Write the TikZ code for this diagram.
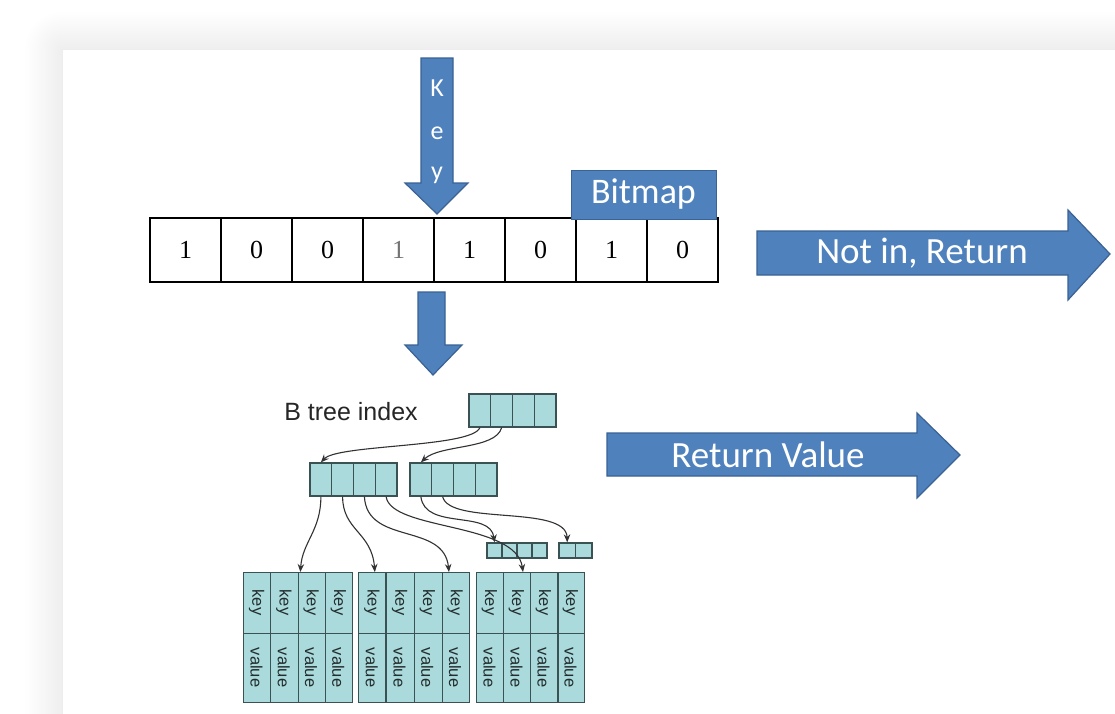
\documentclass[tikz,border=0pt]{standalone}
\usepackage{fontspec}
\setmainfont{Carlito}
\newfontfamily\arialfont{Liberation Sans}
\newfontfamily\timesfont{Liberation Serif}
\usetikzlibrary{arrows.meta,calc}

\definecolor{officeblue}{RGB}{79,129,189}
\definecolor{officeedge}{RGB}{58,98,148}
\definecolor{cellfill}{RGB}{170,218,220}
\definecolor{celledge}{RGB}{58,82,84}
\definecolor{linkgray}{RGB}{50,50,50}
\definecolor{leaftext}{RGB}{35,45,45}

\tikzset{
  bluearrow/.style={fill=officeblue, draw=officeedge, line width=1.2pt, line join=miter},
  arrowtext/.style={text=white, font=\fontsize{37}{42}\selectfont, inner sep=0pt},
  keyletter/.style={text=white, font=\fontsize{26}{30}\selectfont, inner sep=0pt},
  bitcell/.style={draw=black, line width=2.8pt, minimum width=71pt, minimum height=64pt,
    inner sep=0pt, font=\timesfont\fontsize{26}{30}\selectfont},
  tcell/.style={draw=celledge, fill=cellfill, line width=1.3pt, inner sep=0pt},
  leaftxt/.style={rotate=-90, inner sep=0pt, text=leaftext, font=\arialfont\fontsize{16.5}{18}\selectfont},
  link/.style={draw=linkgray, line width=1.1pt, -{Stealth[length=8pt,width=6.5pt]}},
}

\begin{document}
\begin{tikzpicture}[x=1pt,y=-1pt]
\useasboundingbox (0,0) rectangle (1115,713);

% page background and the card with its soft shadow
\fill[white] (0,0) rectangle (1115,713);
\foreach \i in {1,...,16}{
  \pgfmathsetmacro\d{2.3*\i}
  \fill[black, opacity=0.0042, rounded corners=\d pt] (62-\d,49-\d) rectangle (1200,800);
}
\fill[white] (62,49) rectangle (1200,800);
\draw[black!7, line width=0.6pt] (62,800) -- (62,49) -- (1200,49);

% "Key" arrow pointing into the bitmap
\path[bluearrow] (421,58) -- (453,58) -- (453,183) -- (468,183) -- (437,214)
  -- (405,183) -- (421,183) -- cycle;
\node[keyletter] (kK) at (437,88) {K};
\node[keyletter] (ke) at (437,133) {e};
\node[keyletter] (ky) at (437,175) {y};

% bitmap
\foreach \v [count=\i] in {1,0,0,1,1,0,1,0}{
  \node[bitcell] (b\i) at (150+71*\i-35.5,250) {\v};
}
\node[fill=white, inner sep=1pt, text=black!55, font=\timesfont\fontsize{26}{30}\selectfont] at (b4) {1};
\node[fill=officeblue, draw=officeedge, line width=1pt, minimum width=145pt,
  minimum height=49pt, inner sep=0pt, text=white, font=\fontsize{36}{40}\selectfont]
  (bitmap) at (643.5,194.5) {Bitmap};

% "Not in" result arrow
\path[bluearrow] (757,231) -- (1068,231) -- (1068,210) -- (1110,254) -- (1068,300)
  -- (1068,275) -- (757,275) -- cycle;
\node[arrowtext] (notin) at (922,253) {Not in, Return};

% arrow from bitmap down to the index
\path[bluearrow] (418,292) -- (445,292) -- (445,345) -- (462,345) -- (433,375)
  -- (405,345) -- (418,345) -- cycle;

% "Return Value" result arrow
\path[bluearrow] (607,433) -- (917,433) -- (917,413) -- (960,455) -- (917,498)
  -- (917,476) -- (607,476) -- cycle;
\node[arrowtext] (retval) at (768,455) {Return Value};

% B tree index
\node[font=\arialfont\fontsize{25}{28}\selectfont, text=black!85, inner sep=0pt]
  (btlabel) at (351,412) {B tree index};

\foreach \i in {1,...,4}{
  \node[tcell, minimum width=21.75pt, minimum height=33pt] (r\i) at (469+21.75*\i-10.875,410.5) {};
  \node[tcell, minimum width=21.75pt, minimum height=33pt] (L\i) at (310+21.75*\i-10.875,479.5) {};
  \node[tcell, minimum width=21.75pt, minimum height=33pt] (R\i) at (410+21.75*\i-10.875,479.5) {};
  \node[tcell, minimum width=15pt, minimum height=15pt] (S\i) at (487+15*\i-7.5,550.5) {};
}
\foreach \i in {1,2}{
  \node[tcell, minimum width=16.5pt, minimum height=15pt] (T\i) at (559+16.5*\i-8.25,550.5) {};
}

% leaf pages with key / value slots
\foreach \b/\xl/\w in {A/243/109, B/358/111, C/476/108}{
  \node[tcell, minimum width=\w pt, minimum height=130pt, anchor=north west] (leaf\b) at (\xl,572) {};
  \foreach \j in {1,2,3}{
    \draw[celledge, line width=1.3pt] ($(leaf\b.north west)!\j/4!(leaf\b.north east)$)
      -- ($(leaf\b.south west)!\j/4!(leaf\b.south east)$);
  }
  \draw[celledge, line width=1.3pt] ($(leaf\b.north west)!0.47!(leaf\b.south west)$)
    -- ($(leaf\b.north east)!0.47!(leaf\b.south east)$);
  \foreach \j in {1,...,4}{
    \pgfmathsetmacro\cx{\xl+\w*(\j-0.5)/4}
    \node[leaftxt] (\b k\j) at (\cx,602.5) {key};
    \node[leaftxt] (\b v\j) at (\cx,667.5) {value};
  }
}

% child pointers
\draw[link] (r1.south) .. controls +(-8,20) and +(17,-18) .. (L1.north);
\draw[link] (r2.south) .. controls +(-6,22) and +(19,-18) .. (R1.north);
\draw[link] (L1.south) .. controls +(0,34) and +(2,-30) .. ($(leafA.north west)!0.52!(leafA.north east)$);
\draw[link] (L2.south) .. controls +(0,34) and +(-3,-40) .. ($(leafB.north west)!0.15!(leafB.north east)$);
\draw[link] (L3.south) .. controls +(3,49) and +(-5,-50) .. ($(leafB.north west)!0.81!(leafB.north east)$);
\draw[link] (L4.south) .. controls +(5,34) and +(-7,-50) .. ($(leafC.north west)!0.43!(leafC.north east)$);
\draw[link] (R1.south) .. controls +(4,34) and +(-4,-33) .. (S1.north);
\draw[link] (R2.south) .. controls +(7,29) and +(-1,-38) .. (T1.north);
\end{tikzpicture}
\end{document}
